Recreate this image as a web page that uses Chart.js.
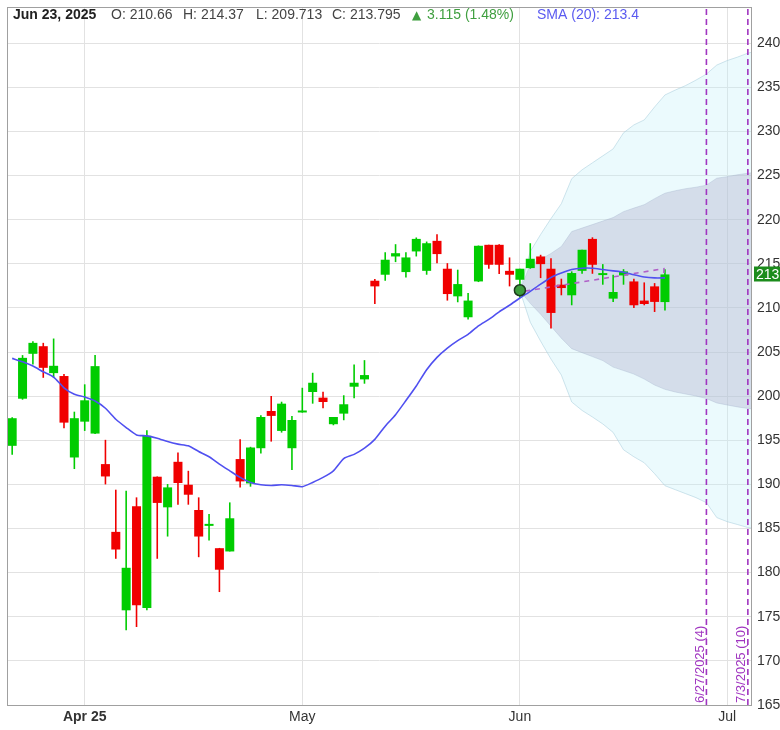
<!DOCTYPE html>
<html>
<head>
<meta charset="utf-8">
<script src="https://cdn.jsdelivr.net/npm/chart.js@4.4.1/dist/chart.umd.min.js"></script>
<style>
html,body{margin:0;padding:0;background:#fff;}
#wrap{width:780px;height:730px;position:relative;}
</style>
</head>
<body>
<div id="wrap"><canvas id="c" width="780" height="730"></canvas></div>
<script>
// ---------------- DATA ----------------
// trading-day index 0 = Mar 21, 2025 ... 63 = Jun 23, 2025
const lastDateLabel = 'Jun 23, 2025';
const open = [
  194.37,199.71,204.8,205.66,202.61,202.28,193.05,197.11,
  195.76,192.3,184.62,175.73,187.51,175.99,190.87,187.4,
  192.56,189.96,187.1,185.3,182.77,182.4,192.87,190.11,
  194.1,198.32,196.06,194.1,198.15,200.47,199.83,196.82,
  198.02,201.07,201.9,213.08,213.76,215.83,214.06,216.4,
  214.2,217.6,214.44,211.31,208.94,213.0,217.15,217.15,
  214.2,213.19,214.51,215.83,214.44,212.63,211.43,214.2,
  217.82,213.72,211.05,213.68,213.0,210.83,212.44,210.66];
const high = [
  197.6,204.65,206.23,206.04,206.53,202.5,198.24,201.34,
  204.65,195.05,189.4,189.28,188.53,196.14,190.9,190.04,
  193.61,191.54,188.53,186.65,182.8,187.96,195.12,194.26,
  197.84,200.02,199.37,197.76,200.95,202.65,200.5,197.64,
  200.1,203.6,204.08,213.27,216.31,217.22,216.31,217.98,
  217.52,218.35,215.07,214.33,211.69,217.07,217.15,217.22,
  215.72,214.44,217.33,216.02,215.64,213.31,214.14,216.59,
  218.0,214.96,213.76,214.39,213.31,212.89,212.81,214.37];
const low = [
  193.35,199.6,203.6,202.08,202.08,196.37,191.74,196.06,
  195.7,190.0,181.57,173.47,173.84,175.73,181.57,184.09,
  187.7,187.7,181.75,183.64,177.8,182.4,189.66,189.74,
  193.5,194.85,195.87,191.62,198.13,199.15,198.63,196.7,
  197.27,199.76,201.41,210.44,213.08,215.19,213.46,215.83,
  213.76,215.07,210.83,210.64,208.68,212.93,214.44,213.83,
  212.44,211.12,214.44,213.38,207.66,211.43,210.3,213.87,
  213.87,212.63,210.67,212.63,210.0,210.3,209.54,209.713];
const close = [
  197.5,204.34,206.04,203.21,203.44,197.0,197.5,199.53,
  203.4,190.9,182.62,180.55,176.3,195.5,187.9,189.66,
  190.16,188.83,184.09,185.45,180.33,186.16,190.34,194.18,
  197.64,197.76,199.15,197.3,198.3,201.52,199.34,197.64,
  199.08,201.52,202.39,212.44,215.46,216.2,215.72,217.82,
  217.33,216.1,211.57,212.7,210.83,217.04,214.89,214.89,
  213.76,214.44,215.57,214.96,209.43,212.25,213.95,216.59,
  214.89,213.86,211.8,214.14,210.3,210.44,210.68,213.795];
const sma20 = [
  204.28,203.89,203.41,202.76,202.16,200.95,200.21,199.9,
  199.45,198.63,197.38,196.44,195.61,195.5,195.24,194.85,
  194.56,194.37,193.73,193.13,192.3,191.54,190.79,190.22,
  189.96,189.88,189.96,189.88,189.74,190.22,190.79,191.54,
  192.93,193.4,194.1,195.1,196.6,197.9,199.5,201.15,
  203.0,204.4,205.45,206.3,207.0,207.96,208.7,209.55,
  210.3,211.12,211.88,212.7,213.45,213.95,214.35,214.5,
  214.5,214.35,214.2,214.05,213.75,213.5,213.4,213.4];

// forecast cones (x = trading-day index)
const coneX = [49,50,51,52,53,54,55,56,57,58,59,60,61,62,63,64,65,66,67,68,69,70,71,71.4];
const outerUpper = [211.95,216.39,218.32,220.12,221.81,224.64,225.65,226.44,227.23,228.02,229.84,230.74,231.3,232.77,234.13,234.69,235.2,235.82,236.5,237.52,238.03,238.42,238.87,238.98];
const innerUpper = [211.95,214.93,215.49,216.17,216.96,218.65,219.05,219.44,219.84,220.24,220.91,221.31,221.7,222.38,223.0,223.28,223.51,223.68,223.91,224.7,224.87,225.09,225.26,225.32];
const innerLower = [211.95,210.52,209.28,207.92,206.57,205.38,204.93,204.48,204.03,203.29,202.9,202.5,201.94,201.26,200.77,200.47,200.24,200.02,199.73,199.23,199.0,198.78,198.61,198.55];
const outerLower = [211.95,208.38,206.23,204.2,202.39,199.34,198.38,197.64,196.85,195.89,193.92,193.13,192.45,191.21,189.85,189.4,188.95,188.5,187.93,186.24,185.78,185.45,185.11,185.05];

// dashed trend line
const trendX = [49.5, 62.9, 62.9];
const trendY = [211.9, 214.45, 213.95];

// event marker
const eventX = [49];
const eventY = [212.0];

// future date markers
const markerX = [67, 71];
const markerLabels = ['6/27/2025 (4)', '7/3/2025 (10)'];

// axis ticks
const xTickPos = [7, 28, 49, 69];
const xTickLabels = ['Apr 25', 'May', 'Jun', 'Jul'];
const yTicks = [165,170,175,180,185,190,195,200,205,210,215,220,225,230,235,240];
const yMin = 165, yMax = 244.1, xMin = -0.5, xMax = 71.4;

// ---------------- CHART ----------------
const FONT = '"Liberation Sans", Arial, Helvetica, sans-serif';
const UP = '#00cc00', DOWN = '#f00000';
const idx = open.map((_, i) => i);
const candleColor = ctx => close[ctx.dataIndex] >= open[ctx.dataIndex] ? UP : DOWN;
const pts = (xs, ys) => xs.map((x, i) => ({x: x, y: ys[i]}));

const framePlugin = {
  id: 'frame',
  afterDatasetsDraw(chart) {
    const {ctx, chartArea: a} = chart;
    ctx.save();
    ctx.strokeStyle = '#a0a0a0';
    ctx.lineWidth = 1;
    ctx.strokeRect(a.left + 0.5, a.top + 0.5, a.right - a.left - 1, a.bottom - a.top);
    ctx.restore();
  }
};

const overlayPlugin = {
  id: 'overlay',
  afterDraw(chart) {
    const c = chart.ctx;
    const xs = chart.scales.x, ys = chart.scales.y;
    const n = close.length - 1;
    c.save();
    // marker labels
    markerX.forEach((v, i) => {
      const px = xs.getPixelForValue(v);
      c.save();
      c.translate(px - 2.5, 703);
      c.rotate(-Math.PI / 2);
      c.font = '13px ' + FONT;
      c.fillStyle = '#a035c0';
      c.textAlign = 'left';
      c.textBaseline = 'alphabetic';
      c.fillText(markerLabels[i], 0, 0);
      c.restore();
    });
    // last price label
    const py = ys.getPixelForValue(close[n]);
    c.fillStyle = '#1c8c1c';
    c.fillRect(754, Math.round(py) - 7.5, 30, 15);
    c.fillStyle = '#ffffff';
    c.font = '14px ' + FONT;
    c.textBaseline = 'middle';
    c.textAlign = 'left';
    c.fillText(close[n].toFixed(2), 756, py + 0.5);
    // header
    const chg = close[n] - close[n - 1];
    const pct = chg / close[n - 1] * 100;
    c.textBaseline = 'alphabetic';
    c.font = 'bold 14px ' + FONT;
    c.fillStyle = '#222';
    c.fillText(lastDateLabel, 13, 19);
    c.font = '14px ' + FONT;
    c.fillStyle = '#444';
    c.fillText('O: ' + open[n], 111, 19);
    c.fillText('H: ' + high[n], 183, 19);
    c.fillText('L: ' + low[n], 256, 19);
    c.fillText('C: ' + close[n], 332, 19);
    c.fillStyle = '#3f9f3f';
    c.font = '12px "DejaVu Sans", sans-serif';
    c.fillText(chg >= 0 ? '\u25B2' : '\u25BC', 412, 19);
    c.font = '14px ' + FONT;
    c.fillText(chg.toFixed(3) + ' (' + pct.toFixed(2) + '%)', 427, 19);
    c.fillStyle = '#5a5af0';
    c.fillText('SMA (20): ' + sma20[n].toFixed(1), 537, 19);
    c.restore();
  }
};

new Chart(document.getElementById('c'), {
  type: 'bar',
  data: {
    datasets: [
      { type: 'line', label: 'outerUpper', data: pts(coneX, outerUpper), order: 10,
        borderColor: 'rgba(170,205,220,0.55)', borderWidth: 1, pointRadius: 0,
        backgroundColor: 'rgba(190,240,250,0.3)', fill: '+1' },
      { type: 'line', label: 'outerLower', data: pts(coneX, outerLower), order: 9,
        borderColor: 'rgba(170,205,220,0.55)', borderWidth: 1, pointRadius: 0, fill: false },
      { type: 'line', label: 'innerUpper', data: pts(coneX, innerUpper), order: 8,
        borderColor: 'rgba(160,175,200,0.35)', borderWidth: 1, pointRadius: 0,
        backgroundColor: 'rgba(170,170,200,0.35)', fill: '+1' },
      { type: 'line', label: 'innerLower', data: pts(coneX, innerLower), order: 7,
        borderColor: 'rgba(160,175,200,0.35)', borderWidth: 1, pointRadius: 0, fill: false },
      { type: 'line', label: 'm1', data: [{x: markerX[0], y: yMin}, {x: markerX[0], y: yMax}], order: 6,
        borderColor: '#a035c0', borderWidth: 1.6, borderDash: [6, 4], pointRadius: 0, fill: false },
      { type: 'line', label: 'm2', data: [{x: markerX[1], y: yMin}, {x: markerX[1], y: yMax}], order: 6,
        borderColor: '#a035c0', borderWidth: 1.6, borderDash: [6, 4], pointRadius: 0, fill: false },
      { type: 'bar', label: 'wick', data: idx.map(i => ({x: i, y: [low[i], high[i]]})), order: 5,
        backgroundColor: candleColor, barThickness: 1.6, borderWidth: 0, inflateAmount: 0 },
      { type: 'bar', label: 'body', data: idx.map(i => ({x: i, y: [open[i], close[i]]})), order: 4,
        backgroundColor: candleColor, barThickness: 9, borderWidth: 0, minBarLength: 2, inflateAmount: 0 },
      { type: 'line', label: 'SMA (20)', data: pts(idx, sma20), order: 2,
        borderColor: '#5050f0', borderWidth: 1.6, pointRadius: 0, fill: false, tension: 0.2 },
      { type: 'line', label: 'trend', data: pts(trendX, trendY), order: 1,
        borderColor: '#b060c8', borderWidth: 1.6, borderDash: [5, 5], pointRadius: 0, fill: false },
      { type: 'line', label: 'event', data: pts(eventX, eventY), order: 0, showLine: false,
        pointRadius: 5.5, pointBackgroundColor: '#3c9c3c', pointBorderColor: '#1c3a1c', pointBorderWidth: 1.5 }
    ]
  },
  options: {
    responsive: false,
    animation: false,
    events: [],
    layout: { padding: { left: 7, top: 5, right: 0, bottom: 0 } },
    plugins: { legend: { display: false }, tooltip: { enabled: false }, title: { display: false } },
    scales: {
      x: {
        type: 'linear', min: xMin, max: xMax, offset: false, stacked: true,
        afterBuildTicks: s => { s.ticks = xTickPos.map(v => ({value: v})); },
        afterFit: s => { s.height = 25; s.paddingLeft = 0; s.paddingRight = 0; },
        grid: { color: '#e2e2e2', drawTicks: false, offset: false },
        border: { display: false },
        ticks: {
          autoSkip: false, maxRotation: 0, padding: 4, color: '#333',
          font: ctx => ({ family: FONT, size: 14, weight: (ctx.tick && ctx.tick.value === xTickPos[0]) ? 'bold' : 'normal' }),
          callback: v => { const k = xTickPos.indexOf(v); return k >= 0 ? xTickLabels[k] : ''; }
        }
      },
      y: {
        type: 'linear', position: 'right', min: yMin, max: yMax,
        afterBuildTicks: s => { s.ticks = yTicks.map(v => ({value: v})); },
        afterFit: s => { s.width = 28; s.paddingTop = 0; s.paddingBottom = 0; },
        grid: { color: '#e2e2e2', drawTicks: false },
        border: { display: false },
        ticks: { autoSkip: false, padding: 5, color: '#333', font: { family: FONT, size: 14 }, callback: v => String(v) }
      }
    }
  },
  plugins: [framePlugin, overlayPlugin]
});
</script>
</body>
</html>
